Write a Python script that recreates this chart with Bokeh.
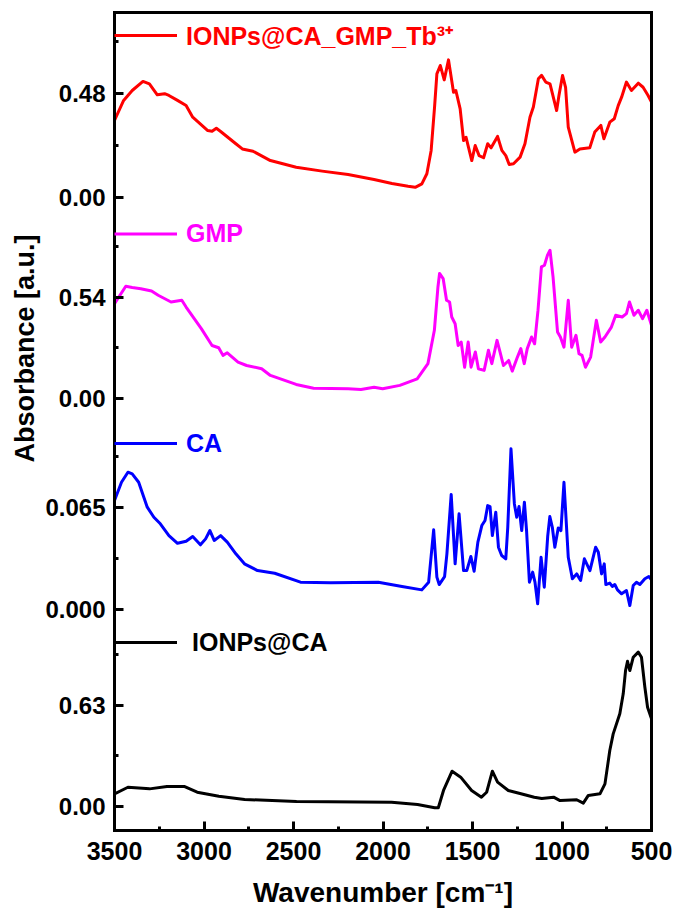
from math import pi
from bokeh.plotting import figure
from bokeh.models import (Range1d, FixedTicker, LinearAxis, Legend, LegendItem,
                          Label, NumeralTickFormatter)
from bokeh.layouts import column, row
from bokeh.embed import file_html
from bokeh.resources import INLINE

FONT = "Liberation Sans"

# ---------------- data ----------------
x_ticks = [3500, 3000, 2500, 2000, 1500, 1000, 500]
x_minor = [3250, 2750, 2250, 1750, 1250, 750]

wn_tb = [3500, 3449, 3401, 3341, 3305, 3261, 3220, 3196, 3148, 3100, 3063, 2979, 2955,
         2931, 2907, 2822, 2786, 2726, 2629, 2485, 2340, 2195, 2050, 1950, 1860, 1820,
         1783, 1755, 1731, 1712, 1699, 1680, 1658, 1634, 1606, 1593, 1569, 1550, 1536,
         1504, 1485, 1463, 1438, 1415, 1396, 1360, 1336, 1314, 1295, 1271, 1234, 1207,
         1179, 1160, 1132, 1114, 1091, 1067, 1030, 1017, 997, 980, 965, 928, 900, 845,
         817, 783, 766, 733, 708, 686, 667, 640, 612, 574, 547, 519, 500]
abs_tb = [0.355, 0.448, 0.494, 0.536, 0.525, 0.474, 0.479, 0.471, 0.448, 0.424, 0.370,
          0.308, 0.305, 0.319, 0.304, 0.247, 0.223, 0.212, 0.169, 0.138, 0.120, 0.104,
          0.081, 0.063, 0.050, 0.045, 0.061, 0.108, 0.216, 0.417, 0.571, 0.610, 0.543,
          0.636, 0.486, 0.494, 0.409, 0.262, 0.277, 0.169, 0.239, 0.192, 0.182, 0.247,
          0.228, 0.281, 0.216, 0.192, 0.151, 0.154, 0.185, 0.247, 0.370, 0.417, 0.548,
          0.564, 0.533, 0.525, 0.401, 0.471, 0.564, 0.509, 0.324, 0.208, 0.223, 0.228,
          0.301, 0.332, 0.270, 0.347, 0.363, 0.424, 0.463, 0.533, 0.494, 0.528, 0.509,
          0.471, 0.440]

wn_gmp = [3500, 3437, 3401, 3353, 3293, 3256, 3184, 3124, 3100, 3015, 2955, 2918, 2894,
          2870, 2810, 2762, 2678, 2629, 2485, 2388, 2195, 2123, 2050, 2002, 1906, 1809,
          1749, 1713, 1693, 1684, 1664, 1645, 1628, 1616, 1597, 1580, 1563, 1544, 1524,
          1508, 1484, 1467, 1435, 1411, 1392, 1363, 1346, 1327, 1298, 1278, 1249, 1230,
          1211, 1194, 1170, 1153, 1134, 1115, 1098, 1081, 1067, 1050, 1025, 1009, 989,
          965, 946, 922, 905, 888, 869, 840, 808, 784, 760, 724, 700, 664, 640, 623, 598,
          574, 550, 526, 500]
abs_gmp = [0.506, 0.599, 0.592, 0.586, 0.574, 0.551, 0.515, 0.524, 0.488, 0.373, 0.283,
           0.271, 0.230, 0.244, 0.194, 0.176, 0.159, 0.123, 0.075, 0.055, 0.052, 0.048,
           0.060, 0.052, 0.070, 0.105, 0.186, 0.364, 0.595, 0.667, 0.640, 0.524, 0.515,
           0.435, 0.399, 0.283, 0.301, 0.167, 0.301, 0.167, 0.248, 0.159, 0.150, 0.257,
           0.186, 0.310, 0.248, 0.176, 0.203, 0.146, 0.221, 0.266, 0.186, 0.266, 0.328,
           0.292, 0.471, 0.702, 0.711, 0.765, 0.791, 0.649, 0.355, 0.328, 0.274, 0.524,
           0.274, 0.337, 0.239, 0.230, 0.167, 0.221, 0.417, 0.301, 0.328, 0.381, 0.444,
           0.435, 0.453, 0.515, 0.444, 0.471, 0.426, 0.471, 0.390]

wn_ca = [3500, 3461, 3425, 3401, 3365, 3317, 3280, 3244, 3196, 3148, 3100, 3063, 3020,
         2991, 2967, 2943, 2907, 2870, 2822, 2774, 2701, 2605, 2461, 2292, 2026, 1894,
         1783, 1745, 1717, 1699, 1686, 1656, 1643, 1619, 1597, 1575, 1550, 1532, 1509,
         1491, 1470, 1448, 1430, 1415, 1402, 1389, 1370, 1355, 1337, 1314, 1303, 1285,
         1266, 1253, 1240, 1225, 1210, 1198, 1182, 1164, 1151, 1136, 1117, 1099, 1080,
         1068, 1054, 1040, 1021, 1006, 989, 965, 942, 918, 896, 875, 844, 812, 797, 779,
         764, 755, 733, 719, 705, 690, 667, 640, 621, 602, 584, 565, 537, 515, 500]
abs_ca = [0.0694, 0.0811, 0.0875, 0.0864, 0.0811, 0.0652, 0.0588, 0.0546, 0.0471,
          0.0422, 0.0435, 0.0465, 0.0412, 0.0450, 0.0503, 0.0440, 0.0471, 0.0429,
          0.0355, 0.0291, 0.0248, 0.0231, 0.0174, 0.0170, 0.0174, 0.0147, 0.0125,
          0.0174, 0.0508, 0.0206, 0.0159, 0.0210, 0.0355, 0.0733, 0.0291, 0.0610,
          0.0248, 0.0248, 0.0338, 0.0244, 0.0429, 0.0535, 0.0567, 0.0662, 0.0656,
          0.0471, 0.0620, 0.0397, 0.0344, 0.0323, 0.0524, 0.1024, 0.0673, 0.0588,
          0.0656, 0.0503, 0.0684, 0.0503, 0.0174, 0.0238, 0.0174, 0.0036, 0.0333,
          0.0142, 0.0465, 0.0592, 0.0524, 0.0397, 0.0520, 0.0503, 0.0811, 0.0333,
          0.0196, 0.0227, 0.0185, 0.0323, 0.0248, 0.0397, 0.0365, 0.0227, 0.0291,
          0.0159, 0.0168, 0.0147, 0.0159, 0.0125, 0.0100, 0.0121, 0.0025, 0.0153,
          0.0174, 0.0159, 0.0196, 0.0210, 0.0189]

wn_ionp = [3500, 3425, 3304, 3207, 3111, 3038, 2917, 2773, 2483, 1952, 1807, 1711, 1691,
           1662, 1614, 1566, 1505, 1450, 1421, 1389, 1360, 1300, 1240, 1155, 1113, 1047,
           1011, 918, 881, 853, 788, 760, 733, 714, 677, 658, 645, 634, 621, 602, 574,
           556, 537, 522, 500]
abs_ionp = [0.079, 0.120, 0.110, 0.125, 0.125, 0.089, 0.064, 0.044, 0.031, 0.027, 0.012,
            -0.008, -0.008, 0.100, 0.220, 0.183, 0.100, 0.058, 0.089, 0.220, 0.152, 0.100,
            0.083, 0.058, 0.050, 0.058, 0.037, 0.042, 0.021, 0.069, 0.079, 0.141, 0.349,
            0.453, 0.578, 0.703, 0.848, 0.906, 0.848, 0.931, 0.963, 0.931, 0.744, 0.619,
            0.547]

names = ["IONPs@CA_GMP_Tb\u00b3\u207a", "GMP", "CA", "IONPs@CA"]
colors = ["#FF0000", "#FF00FF", "#0000FF", "#000000"]
y_major = [[0.0, 0.48], [0.0, 0.54], [0.0, 0.065], [0.0, 0.63]]
y_minor = [[0.24, 0.72], [0.27, 0.81], [0.0325, 0.0975], [0.315, 0.945]]
y_fmt = ["0.00", "0.00", "0.000", "0.00"]

# ---------------- layout / style ----------------
LBL_W = 42
MAIN_W = 676 - LBL_W
y_ranges = [(-0.0904, 0.8557), (-0.1227, 0.971), (-0.0102, 0.1198), (-0.1497, 1.129)]
frame_h = [204, 205, 204, 205]
legend_gh = [46, 35, 44, 34]
legend_standoff = [9, 9, 9, 15]

x_range = Range1d(3500, 500)
series = [(wn_tb, abs_tb), (wn_gmp, abs_gmp), (wn_ca, abs_ca), (wn_ionp, abs_ionp)]


def frame_axis():
    return LinearAxis(ticker=FixedTicker(ticks=[]), axis_line_width=3,
                      axis_line_color="black", axis_line_cap="square",
                      major_tick_out=0, major_tick_in=0, minor_tick_out=0,
                      minor_tick_in=0, major_label_text_font_size="0px")


panels = []
for i in range(4):
    top = i == 0
    bottom = i == 3
    h = frame_h[i] + (12 if top else 0) + (86 if bottom else 0)
    p = figure(width=MAIN_W, height=h, x_range=x_range, y_range=Range1d(*y_ranges[i]),
               output_backend="svg", toolbar_location=None,
               x_axis_location="below" if bottom else None, y_axis_location="left",
               min_border=0, min_border_left=112 - LBL_W, min_border_right=25,
               min_border_top=12 if top else 0, min_border_bottom=86 if bottom else 0,
               outline_line_color=None, background_fill_color="white",
               border_fill_color="white")
    p.grid.visible = False

    ya = p.yaxis[0]
    ya.ticker = FixedTicker(ticks=y_major[i], minor_ticks=y_minor[i])
    ya.formatter = NumeralTickFormatter(format=y_fmt[i])
    ya.major_tick_in = 9
    ya.major_tick_out = 0
    ya.minor_tick_in = 4
    ya.minor_tick_out = 0
    ya.major_tick_line_width = 3
    ya.minor_tick_line_width = 3
    ya.axis_line_width = 3
    ya.axis_line_cap = "square"
    ya.major_label_text_font = FONT
    ya.major_label_text_font_style = "bold"
    ya.major_label_text_font_size = "24px"
    ya.major_label_text_color = "black"
    ya.major_label_standoff = 9

    p.add_layout(frame_axis(), "right")
    if top:
        p.add_layout(frame_axis(), "above")
    if bottom:
        xa = p.xaxis[0]
        xa.ticker = FixedTicker(ticks=x_ticks, minor_ticks=x_minor)
        xa.major_tick_in = 9
        xa.major_tick_out = 0
        xa.minor_tick_in = 4
        xa.minor_tick_out = 0
        xa.major_tick_line_width = 3
        xa.minor_tick_line_width = 3
        xa.axis_line_width = 3
        xa.axis_line_cap = "square"
        xa.major_label_text_font = FONT
        xa.major_label_text_font_style = "bold"
        xa.major_label_text_font_size = "25px"
        xa.major_label_text_color = "black"
        xa.major_label_standoff = 11
        xa.axis_label = "Wavenumber [cm\u207b\u00b9]"
        xa.axis_label_text_font = FONT
        xa.axis_label_text_font_style = "bold"
        xa.axis_label_text_font_size = "28px"
        xa.axis_label_text_color = "black"
        xa.axis_label_standoff = 14

    wn, ab = series[i]
    r = p.line(wn, ab, line_color=colors[i], line_width=3, line_join="round")
    leg = Legend(items=[LegendItem(label=names[i], renderers=[r])], location="top_left",
                 margin=0, padding=3, glyph_width=63, glyph_height=legend_gh[i],
                 label_standoff=legend_standoff[i], label_text_font=FONT,
                 label_text_font_style="bold", label_text_font_size="25px",
                 label_text_color=colors[i], background_fill_alpha=0,
                 border_line_color=None)
    p.add_layout(leg)
    panels.append(p)

# y-axis title spanning the stacked panels
lp = figure(width=LBL_W, height=916, x_range=Range1d(0, LBL_W), y_range=Range1d(0, 916),
            output_backend="svg", toolbar_location=None, min_border=0,
            x_axis_location=None, y_axis_location=None, outline_line_color=None)
lp.grid.visible = False
lp.add_layout(Label(x=24, y=916 - 348, text="Absorbance [a.u.]", angle=pi / 2,
                    text_align="center", text_baseline="middle", text_font=FONT,
                    text_font_style="bold", text_font_size="27px", text_color="black"))

layout = row(lp, column(*panels, spacing=0), spacing=0)

open("out.html", "w").write(file_html(layout, INLINE))
